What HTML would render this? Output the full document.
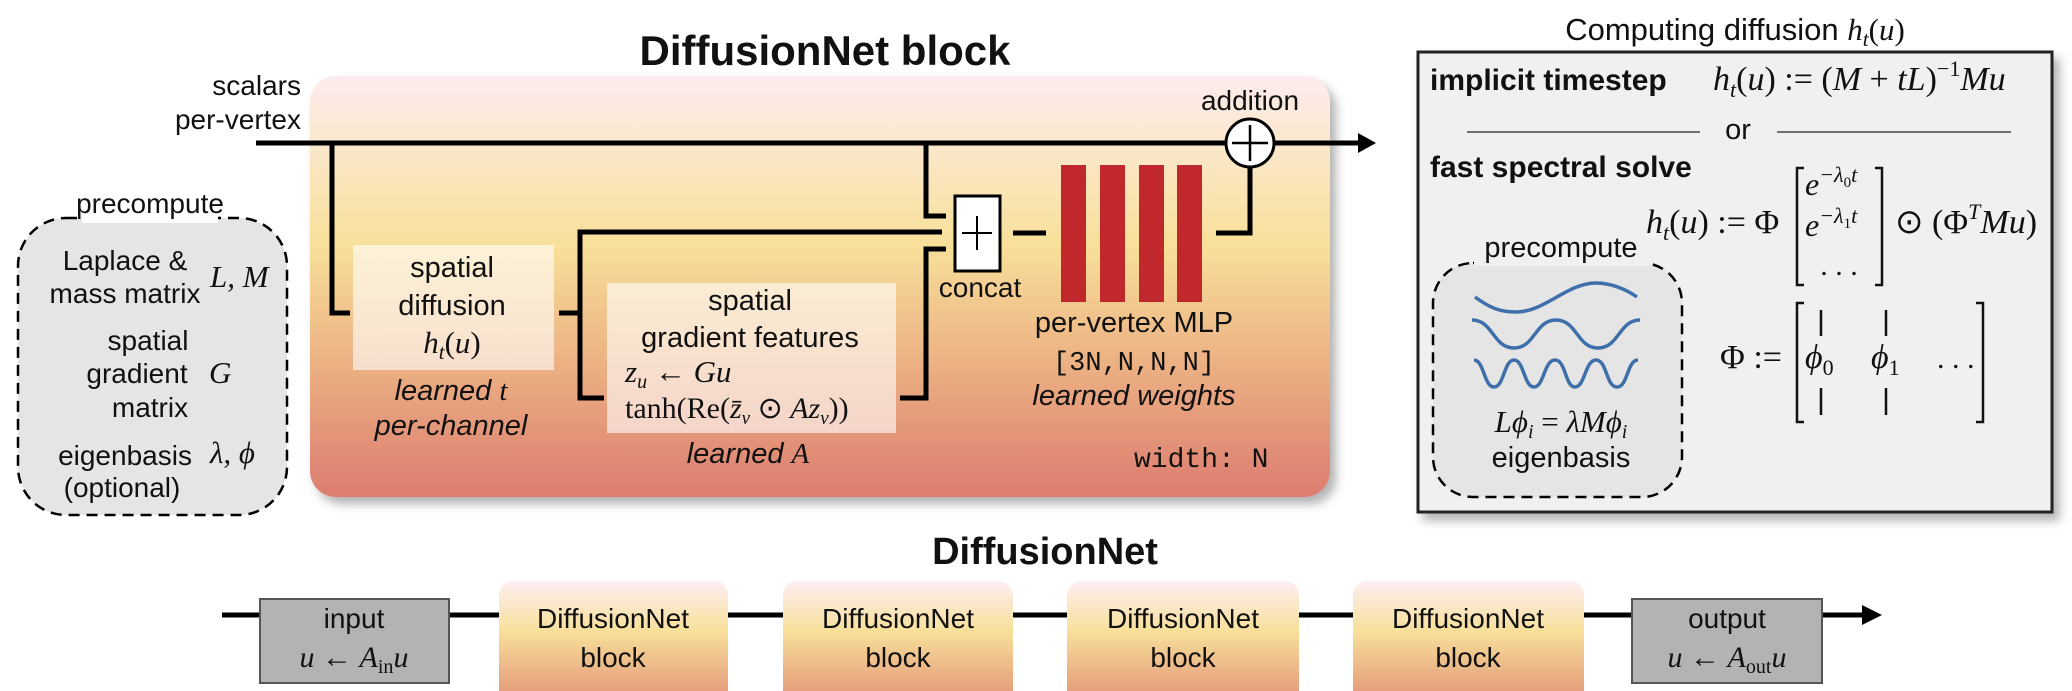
<!DOCTYPE html>
<html><head><meta charset="utf-8"><style>
html,body{margin:0;padding:0;background:#fff}
svg{display:block}
text{font-family:"Liberation Sans",sans-serif;fill:#111}
.m{font-family:"Liberation Serif",serif;font-style:italic}
.r{font-family:"Liberation Serif",serif}
.mono{font-family:"Liberation Mono",monospace}
</style></head><body>
<svg width="2072" height="691" viewBox="0 0 2072 691" xmlns="http://www.w3.org/2000/svg">
<defs>
<linearGradient id="g" x1="0" y1="0" x2="0" y2="1">
<stop offset="0" stop-color="#fdecee"/><stop offset="0.4" stop-color="#f8e09a"/><stop offset="0.7" stop-color="#ebae82"/><stop offset="1" stop-color="#dc7d70"/></linearGradient>
<linearGradient id="g2" x1="0" y1="0" x2="0" y2="1">
<stop offset="0" stop-color="#fdeef4"/><stop offset="0.4" stop-color="#f8e09a"/><stop offset="1" stop-color="#e18f76"/></linearGradient>
<filter id="sh" x="-5%" y="-5%" width="115%" height="120%"><feDropShadow dx="6" dy="7" stdDeviation="5" flood-color="#000" flood-opacity="0.3"/></filter>
</defs>

<!-- DiffusionNet block -->
<text x="825" y="65" font-size="42" font-weight="bold" text-anchor="middle">DiffusionNet block</text>
<rect x="310" y="76" width="1020" height="421" rx="26" fill="url(#g)" filter="url(#sh)"/>
<text x="301" y="95" font-size="28" text-anchor="end">scalars</text>
<text x="301" y="129" font-size="28" text-anchor="end">per-vertex</text>
<text x="1250" y="110" font-size="28" text-anchor="middle">addition</text>

<g stroke="#000" stroke-width="5" fill="none">
<line x1="256" y1="143" x2="1360" y2="143"/>
<polyline points="332,143 332,313 350,313"/>
<line x1="559" y1="313" x2="582" y2="313"/>
<polyline points="942,232 580,232 580,398 604,398"/>
<polyline points="900,398 926,398 926,249 946,249"/>
<polyline points="926,143 926,216 946,216"/>
<line x1="1013" y1="233" x2="1046" y2="233"/>
<polyline points="1216,233 1250,233 1250,166"/>
</g>
<polygon points="1358,133 1376,143 1358,153" fill="#000"/>
<circle cx="1250" cy="143" r="24" fill="#fff" stroke="#000" stroke-width="3"/>
<g stroke="#000" stroke-width="2.5"><line x1="1250" y1="125" x2="1250" y2="161"/><line x1="1232" y1="143" x2="1268" y2="143"/></g>

<rect x="353" y="245" width="201" height="125" fill="#fff" fill-opacity="0.6"/>
<text x="452" y="277" font-size="29" text-anchor="middle">spatial</text>
<text x="452" y="315" font-size="29" text-anchor="middle">diffusion</text>
<text x="452" y="353" font-size="31" text-anchor="middle" class="r"><tspan class="m">h</tspan><tspan class="m" font-size="21" dy="6">t</tspan><tspan dy="-6">(</tspan><tspan class="m">u</tspan>)</text>
<text x="451" y="400" font-size="29" text-anchor="middle" font-style="italic">learned <tspan class="m">t</tspan></text>
<text x="451" y="435" font-size="29" text-anchor="middle" font-style="italic">per-channel</text>

<rect x="607" y="283" width="289" height="150" fill="#fff" fill-opacity="0.6"/>
<text x="750" y="310" font-size="29" text-anchor="middle">spatial</text>
<text x="750" y="347" font-size="29" text-anchor="middle">gradient features</text>
<text x="625" y="382" font-size="31" class="r"><tspan class="m">z</tspan><tspan class="m" font-size="20" dy="6">u</tspan><tspan dy="-6"> ← </tspan><tspan class="m">Gu</tspan></text>
<text x="625" y="418" font-size="30" class="r">tanh(Re(<tspan class="m">z̄</tspan><tspan class="m" font-size="19" dy="6">v</tspan><tspan dy="-6"> ⊙ </tspan><tspan class="m">Az</tspan><tspan class="m" font-size="19" dy="6">v</tspan><tspan dy="-6">))</tspan></text>
<text x="748" y="463" font-size="29" text-anchor="middle" font-style="italic">learned <tspan class="m">A</tspan></text>

<rect x="955" y="196" width="45" height="75" fill="#fff" stroke="#000" stroke-width="3"/>
<g stroke="#000" stroke-width="2"><line x1="977" y1="216" x2="977" y2="250"/><line x1="962" y1="233" x2="992" y2="233"/></g>
<text x="980" y="297" font-size="28" text-anchor="middle">concat</text>

<g fill="#c0282b">
<rect x="1061" y="165" width="25" height="137"/><rect x="1100" y="165" width="25" height="137"/>
<rect x="1139" y="165" width="25" height="137"/><rect x="1177" y="165" width="25" height="137"/>
</g>
<text x="1134" y="332" font-size="29" text-anchor="middle">per-vertex MLP</text>
<text x="1134" y="370" font-size="27" text-anchor="middle" class="mono">[3N,N,N,N]</text>
<text x="1134" y="405" font-size="29" text-anchor="middle" font-style="italic">learned weights</text>
<text x="1134" y="467" font-size="28" class="mono">width: N</text>

<!-- left precompute -->
<rect x="18" y="218" width="269" height="297" rx="48" fill="#e5e5e5" stroke="#000" stroke-width="2.5" stroke-dasharray="11,7"/>
<rect x="82" y="195" width="136" height="28" fill="#fff"/>
<text x="150" y="213" font-size="28" text-anchor="middle">precompute</text>
<text x="125" y="270" font-size="28" text-anchor="middle">Laplace &amp;</text>
<text x="125" y="303" font-size="28" text-anchor="middle">mass matrix</text>
<text x="210" y="287" font-size="31" class="m">L, M</text>
<text x="148" y="350" font-size="28" text-anchor="middle">spatial</text>
<text x="137" y="383" font-size="28" text-anchor="middle">gradient</text>
<text x="209" y="383" font-size="31" class="m">G</text>
<text x="150" y="417" font-size="28" text-anchor="middle">matrix</text>
<text x="125" y="465" font-size="28" text-anchor="middle">eigenbasis</text>
<text x="210" y="463" font-size="31" class="m">λ, ϕ</text>
<text x="122" y="497" font-size="28" text-anchor="middle">(optional)</text>

<!-- right box -->
<text x="1735" y="40" font-size="31" text-anchor="middle">Computing diffusion <tspan class="m">h</tspan><tspan class="m" font-size="21" dy="6">t</tspan><tspan class="r" dy="-6">(</tspan><tspan class="m">u</tspan><tspan class="r">)</tspan></text>
<rect x="1418" y="52" width="634" height="460" fill="#f0f0f0" stroke="#222" stroke-width="3" filter="url(#sh)"/>
<text x="1430" y="90" font-size="30" font-weight="bold">implicit timestep</text>
<text x="1713" y="90" font-size="34" class="r"><tspan class="m">h</tspan><tspan class="m" font-size="22" dy="7">t</tspan><tspan dy="-7">(</tspan><tspan class="m">u</tspan>) := (<tspan class="m">M</tspan> + <tspan class="m">tL</tspan>)<tspan font-size="22" dy="-14">−1</tspan><tspan class="m" dy="14">Mu</tspan></text>
<g stroke="#444" stroke-width="1.5"><line x1="1467" y1="132" x2="1700" y2="132"/><line x1="1777" y1="132" x2="2011" y2="132"/></g>
<text x="1738" y="139" font-size="29" text-anchor="middle">or</text>
<text x="1430" y="177" font-size="30" font-weight="bold">fast spectral solve</text>
<text x="1646" y="233" font-size="34" class="r"><tspan class="m">h</tspan><tspan class="m" font-size="22" dy="7">t</tspan><tspan dy="-7">(</tspan><tspan class="m">u</tspan>) := Φ</text>
<g stroke="#111" stroke-width="2.5" fill="none">
<polyline points="1804,168 1797,168 1797,285 1804,285"/><polyline points="1875,168 1882,168 1882,285 1875,285"/>
<polyline points="1804,303 1797,303 1797,422 1804,422"/><polyline points="1976,303 1983,303 1983,422 1976,422"/>
<line x1="1821" y1="310" x2="1821" y2="336"/><line x1="1886" y1="310" x2="1886" y2="336"/>
<line x1="1821" y1="388" x2="1821" y2="415"/><line x1="1886" y1="388" x2="1886" y2="415"/>
</g>
<text x="1805" y="195" font-size="32" class="m">e<tspan font-size="22" dy="-13">−λ</tspan><tspan font-size="15" dy="5" class="r" font-style="normal">0</tspan><tspan font-size="22" dy="-5">t</tspan></text>
<text x="1805" y="236" font-size="32" class="m">e<tspan font-size="22" dy="-13">−λ</tspan><tspan font-size="15" dy="5" class="r" font-style="normal">1</tspan><tspan font-size="22" dy="-5">t</tspan></text>
<text x="1839" y="275" font-size="30" text-anchor="middle" class="r">. . .</text>
<text x="1895" y="233" font-size="34" class="r">⊙ (Φ<tspan class="m" font-size="22" dy="-14">T</tspan><tspan class="m" dy="14">Mu</tspan>)</text>
<text x="1720" y="368" font-size="34" class="r">Φ :=</text>
<text x="1805" y="368" font-size="34" class="m">ϕ<tspan class="r" font-style="normal" font-size="22" dy="7">0</tspan></text>
<text x="1871" y="368" font-size="34" class="m">ϕ<tspan class="r" font-style="normal" font-size="22" dy="7">1</tspan></text>
<text x="1937" y="368" font-size="30" class="r">. . .</text>

<rect x="1433" y="263" width="249" height="234" rx="40" fill="#e5e5e5" stroke="#000" stroke-width="2.5" stroke-dasharray="11,7"/>
<rect x="1474" y="236" width="176" height="30" fill="#f0f0f0"/>
<text x="1561" y="257" font-size="29" text-anchor="middle">precompute</text>
<g stroke="#3f6faa" stroke-width="3.5" fill="none">
<path d="M1475,297 C1490,308 1500,312 1516,312 C1545,312 1567,283 1596,283 C1612,283 1627,290 1637,297"/>
<path d="M1472,320 C1493,320 1493,348 1514,348 S1535,320 1556,320 S1577,348 1598,348 S1619,320 1640,320"/>
<path d="M1474,360 C1484,360 1484,387 1494,387 S1504,360 1514,360 S1524,387 1534,387 S1544,360 1555,360 S1565,387 1575,387 S1585,360 1596,360 S1606,387 1617,387 S1627,360 1638,360"/>
</g>
<text x="1561" y="432" font-size="31" text-anchor="middle" class="r"><tspan class="m">Lϕ</tspan><tspan class="m" font-size="20" dy="6">i</tspan><tspan dy="-6"> = </tspan><tspan class="m">λMϕ</tspan><tspan class="m" font-size="20" dy="6">i</tspan></text>
<text x="1561" y="467" font-size="29" text-anchor="middle">eigenbasis</text>

<!-- DiffusionNet -->
<text x="1045" y="564" font-size="38" font-weight="bold" text-anchor="middle">DiffusionNet</text>
<line x1="222" y1="615" x2="1864" y2="615" stroke="#000" stroke-width="5"/>
<polygon points="1862,605 1882,615 1862,625" fill="#000"/>
<rect x="260" y="599" width="189" height="84" fill="#b3b3b3" stroke="#555" stroke-width="2"/>
<text x="354" y="628" font-size="28" text-anchor="middle">input</text>
<text x="354" y="667" font-size="30" text-anchor="middle" class="r"><tspan class="m">u</tspan> ← <tspan class="m">A</tspan><tspan font-size="20" dy="6">in</tspan><tspan class="m" dy="-6">u</tspan></text>
<rect x="1632" y="599" width="190" height="84" fill="#b3b3b3" stroke="#555" stroke-width="2"/>
<text x="1727" y="628" font-size="28" text-anchor="middle">output</text>
<text x="1727" y="667" font-size="30" text-anchor="middle" class="r"><tspan class="m">u</tspan> ← <tspan class="m">A</tspan><tspan font-size="20" dy="6">out</tspan><tspan class="m" dy="-6">u</tspan></text>
<g>
<rect x="499" y="581" width="229" height="125" rx="14" fill="url(#g2)"/>
<rect x="783" y="581" width="230" height="125" rx="14" fill="url(#g2)"/>
<rect x="1067" y="581" width="232" height="125" rx="14" fill="url(#g2)"/>
<rect x="1353" y="581" width="231" height="125" rx="14" fill="url(#g2)"/>
</g>
<g font-size="28" text-anchor="middle">
<text x="613" y="628">DiffusionNet</text><text x="613" y="667">block</text>
<text x="898" y="628">DiffusionNet</text><text x="898" y="667">block</text>
<text x="1183" y="628">DiffusionNet</text><text x="1183" y="667">block</text>
<text x="1468" y="628">DiffusionNet</text><text x="1468" y="667">block</text>
</g>
</svg>
</body></html>
